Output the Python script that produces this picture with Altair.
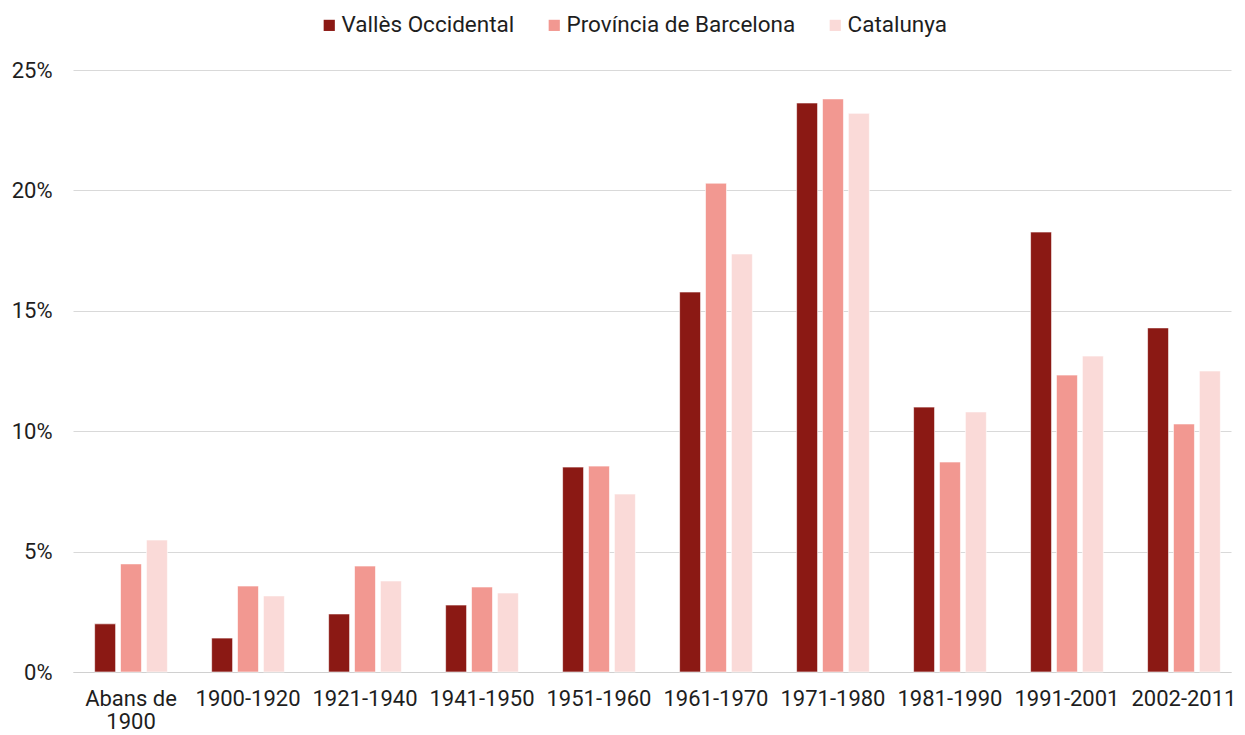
import altair as alt
import pandas as pd

categories = ["Abans de 1900", "1900-1920", "1921-1940", "1941-1950", "1951-1960",
              "1961-1970", "1971-1980", "1981-1990", "1991-2001", "2002-2011"]
series = ["Vallès Occidental", "Província de Barcelona", "Catalunya"]
colors = ["#8B1914", "#F29891", "#FADAD8"]

valles = [2.0, 1.41, 2.41, 2.78, 8.51, 15.78, 23.63, 11.0, 18.27, 14.29]
provincia = [4.49, 3.57, 4.40, 3.53, 8.55, 20.3, 23.8, 8.72, 12.33, 10.3]
catalunya = [5.48, 3.16, 3.78, 3.28, 7.39, 17.36, 23.2, 10.8, 13.12, 12.5]

rows = []
for s, vals in zip(series, [valles, provincia, catalunya]):
    for c, v in zip(categories, vals):
        rows.append({"cat": c, "serie": s, "val": v})
df = pd.DataFrame(rows)

FONT = "Roboto"
TXT = "#1e1e1e"

chart = alt.Chart(df).mark_bar(stroke="white", strokeWidth=0.6).encode(
    x=alt.X("cat:N", sort=categories, title=None,
            scale=alt.Scale(paddingInner=0.378, paddingOuter=0.138, align=0.67),
            axis=alt.Axis(labelAngle=0, labelFontSize=22, labelColor=TXT,
                          labelFont=FONT, ticks=False, domainColor="#d0d0d0",
                          labelPadding=16, labelLimit=200, labelLineHeight=23,
                          labelExpr="datum.value == 'Abans de 1900' ? ['Abans de', '1900'] : datum.label")),
    xOffset=alt.XOffset("serie:N", sort=series,
                        scale=alt.Scale(paddingInner=0.19)),
    y=alt.Y("val:Q", title=None,
            scale=alt.Scale(domain=[0, 25], nice=False),
            axis=alt.Axis(values=[0, 5, 10, 15, 20, 25], labelExpr="datum.value + '%'",
                          labelFontSize=22, labelColor=TXT, labelFont=FONT,
                          ticks=False, domain=False, gridColor="#d9d9d9",
                          labelPadding=21)),
    color=alt.Color("serie:N", sort=series,
                    scale=alt.Scale(domain=series, range=colors),
                    legend=alt.Legend(title=None, orient="none", direction="horizontal",
                                      legendX=245, legendY=-56,
                                      symbolType="square", symbolSize=125,
                                      symbolStrokeWidth=0, labelOffset=1,
                                      labelFontSize=22.5, labelFont=FONT,
                                      labelColor=TXT, columnPadding=28,
                                      labelLimit=300)),
).properties(
    width=1158, height=602,
    autosize=alt.AutoSizeParams(type="none"),
    padding={"left": 65, "top": 62, "right": 6, "bottom": 63},
).configure_view(stroke=None)

chart.save("out.html", embed_options={"renderer": "svg", "actions": False})
